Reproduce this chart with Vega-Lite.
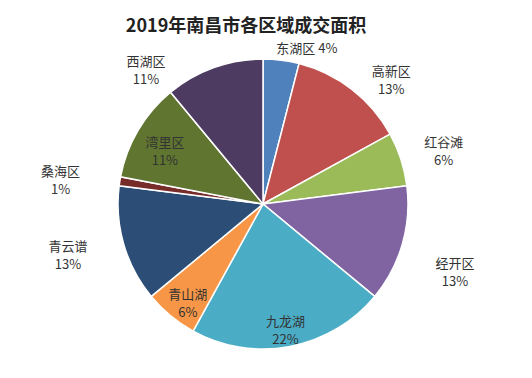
{
  "$schema": "https://vega.github.io/schema/vega-lite/v6.json",
  "width": 526,
  "height": 308,
  "autosize": "none",
  "padding": {"left": 0, "top": 50, "right": 6, "bottom": 20},
  "background": "white",
  "config": {"view": {"stroke": null}, "text": {"lineBreak": "\n", "font": "Noto Sans CJK SC", "fontSize": 13, "lineHeight": 18, "color": "#333333"}},
  "title": {
    "text": "2019年南昌市各区域成交面积",
    "font": "Noto Sans CJK SC",
    "fontSize": 18,
    "fontWeight": "bold",
    "color": "#222222",
    "anchor": "middle",
    "frame": "group",
    "dx": -17,
    "offset": 7
  },
  "data": {
    "values": [
      {"idx": 1, "region": "东湖区", "value": 4, "label": "东湖区  4%"},
      {"idx": 2, "region": "高新区", "value": 13, "label": "高新区\n13%"},
      {"idx": 3, "region": "红谷滩", "value": 6, "label": "红谷滩\n6%"},
      {"idx": 4, "region": "经开区", "value": 13, "label": "经开区\n13%"},
      {"idx": 5, "region": "九龙湖", "value": 22, "label": "九龙湖\n22%"},
      {"idx": 6, "region": "青山湖", "value": 6, "label": "青山湖\n6%"},
      {"idx": 7, "region": "青云谱", "value": 13, "label": "青云谱\n13%"},
      {"idx": 8, "region": "桑海区", "value": 1, "label": "桑海区\n1%"},
      {"idx": 9, "region": "湾里区", "value": 11, "label": "湾里区\n11%"},
      {"idx": 10, "region": "西湖区", "value": 11, "label": "西湖区\n11%"}
    ]
  },
  "transform": [
    {"stack": "value", "groupby": [], "sort": [{"field": "idx", "order": "ascending"}], "as": ["v0", "v1"]},
    {"calculate": "(datum.v0 + datum.v1) / 2", "as": "mid"}
  ],
  "layer": [
    {
      "mark": {"type": "arc", "outerRadius": 145, "stroke": "white", "strokeWidth": 1.5},
      "encoding": {
        "theta": {"field": "v0", "type": "quantitative", "scale": {"domain": [0, 100]}},
        "theta2": {"field": "v1"},
        "color": {
          "field": "region",
          "type": "nominal",
          "legend": null,
          "scale": {
            "domain": ["东湖区", "高新区", "红谷滩", "经开区", "九龙湖", "青山湖", "青云谱", "桑海区", "湾里区", "西湖区"],
            "range": ["#4F81BD", "#C0504D", "#9BBB59", "#8064A2", "#4BACC6", "#F79646", "#2C4D75", "#772C2A", "#5F7530", "#4D3B62"]
          }
        }
      }
    },
    {
      "transform": [{"filter": "datum.region === '东湖区'"}],
      "mark": {"type": "text", "radius": 158, "dx": 24, "dy": 2},
      "encoding": {"theta": {"field": "mid", "type": "quantitative"}, "text": {"field": "label"}}
    },
    {
      "transform": [{"filter": "datum.region === '高新区'"}],
      "mark": {"type": "text", "radius": 180, "dx": 18, "dy": 10},
      "encoding": {"theta": {"field": "mid", "type": "quantitative"}, "text": {"field": "label"}}
    },
    {
      "transform": [{"filter": "datum.region === '红谷滩'"}],
      "mark": {"type": "text", "radius": 190, "dy": -2},
      "encoding": {"theta": {"field": "mid", "type": "quantitative"}, "text": {"field": "label"}}
    },
    {
      "transform": [{"filter": "datum.region === '经开区'"}],
      "mark": {"type": "text", "radius": 200, "dy": 4},
      "encoding": {"theta": {"field": "mid", "type": "quantitative"}, "text": {"field": "label"}}
    },
    {
      "transform": [{"filter": "datum.region === '九龙湖'"}],
      "mark": {"type": "text", "radius": 120},
      "encoding": {"theta": {"field": "mid", "type": "quantitative"}, "text": {"field": "label"}}
    },
    {
      "transform": [{"filter": "datum.region === '青山湖'"}],
      "mark": {"type": "text", "radius": 118},
      "encoding": {"theta": {"field": "mid", "type": "quantitative"}, "text": {"field": "label"}}
    },
    {
      "transform": [{"filter": "datum.region === '青云谱'"}],
      "mark": {"type": "text", "radius": 200, "dx": -3, "dy": -13},
      "encoding": {"theta": {"field": "mid", "type": "quantitative"}, "text": {"field": "label"}}
    },
    {
      "transform": [{"filter": "datum.region === '桑海区'"}],
      "mark": {"type": "text", "radius": 205},
      "encoding": {"theta": {"field": "mid", "type": "quantitative"}, "text": {"field": "label"}}
    },
    {
      "transform": [{"filter": "datum.region === '湾里区'"}],
      "mark": {"type": "text", "radius": 114, "dy": -3},
      "encoding": {"theta": {"field": "mid", "type": "quantitative"}, "text": {"field": "label"}}
    },
    {
      "transform": [{"filter": "datum.region === '西湖区'"}],
      "mark": {"type": "text", "radius": 180, "dx": -56, "dy": 27},
      "encoding": {"theta": {"field": "mid", "type": "quantitative"}, "text": {"field": "label"}}
    }
  ]
}
